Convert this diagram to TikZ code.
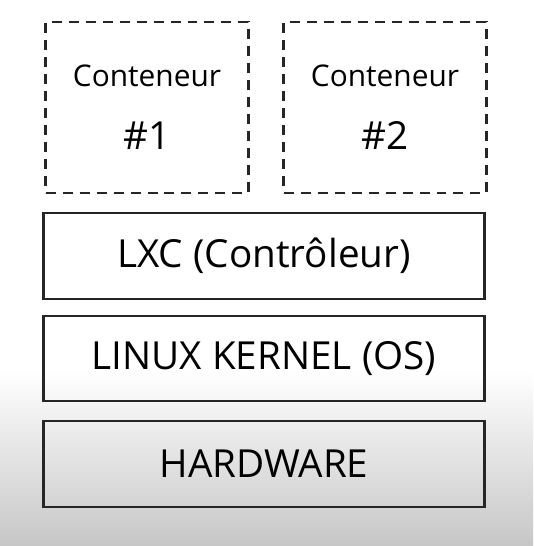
\documentclass[tikz,border=0pt]{standalone}
\usepackage{fontspec}
\setmainfont{Open Sans}
\begin{document}
\begin{tikzpicture}[x=0.02cm,y=-0.02cm,
  layer/.style={draw=black!85, line width=1.2pt, minimum width=8.82cm, minimum height=1.71cm,
    inner sep=0pt, font=\fontsize{22}{26}\selectfont},
  container/.style={draw=black!85, line width=1.3pt, dash pattern=on 0.2cm off 0.14cm,
    minimum width=4.06cm, minimum height=3.42cm, inner sep=0pt, align=center,
    font=\fontsize{17}{36}\selectfont}]
% background
\useasboundingbox (0,0) rectangle (533,546);
\fill[white] (0,0) rectangle (533,371);
\shade[top color=white, bottom color=black!22] (0,370) rectangle (533,546);
% the two containers
\node[container] (cont1) at (147,107.5) {Conteneur\\{\fontsize{22}{26}\selectfont\#1}};
\node[container] (cont2) at (385,107.5) {Conteneur\\{\fontsize{22}{26}\selectfont\#2}};
% the stack below
\node[layer] (lxc) at (264,256) {LXC (Contrôleur)};
\node[layer] (kernel) at (264,358.5) {LINUX KERNEL (OS)};
\node[layer] (hw) at (264,464) {HARDWARE};
\end{tikzpicture}
\end{document}
